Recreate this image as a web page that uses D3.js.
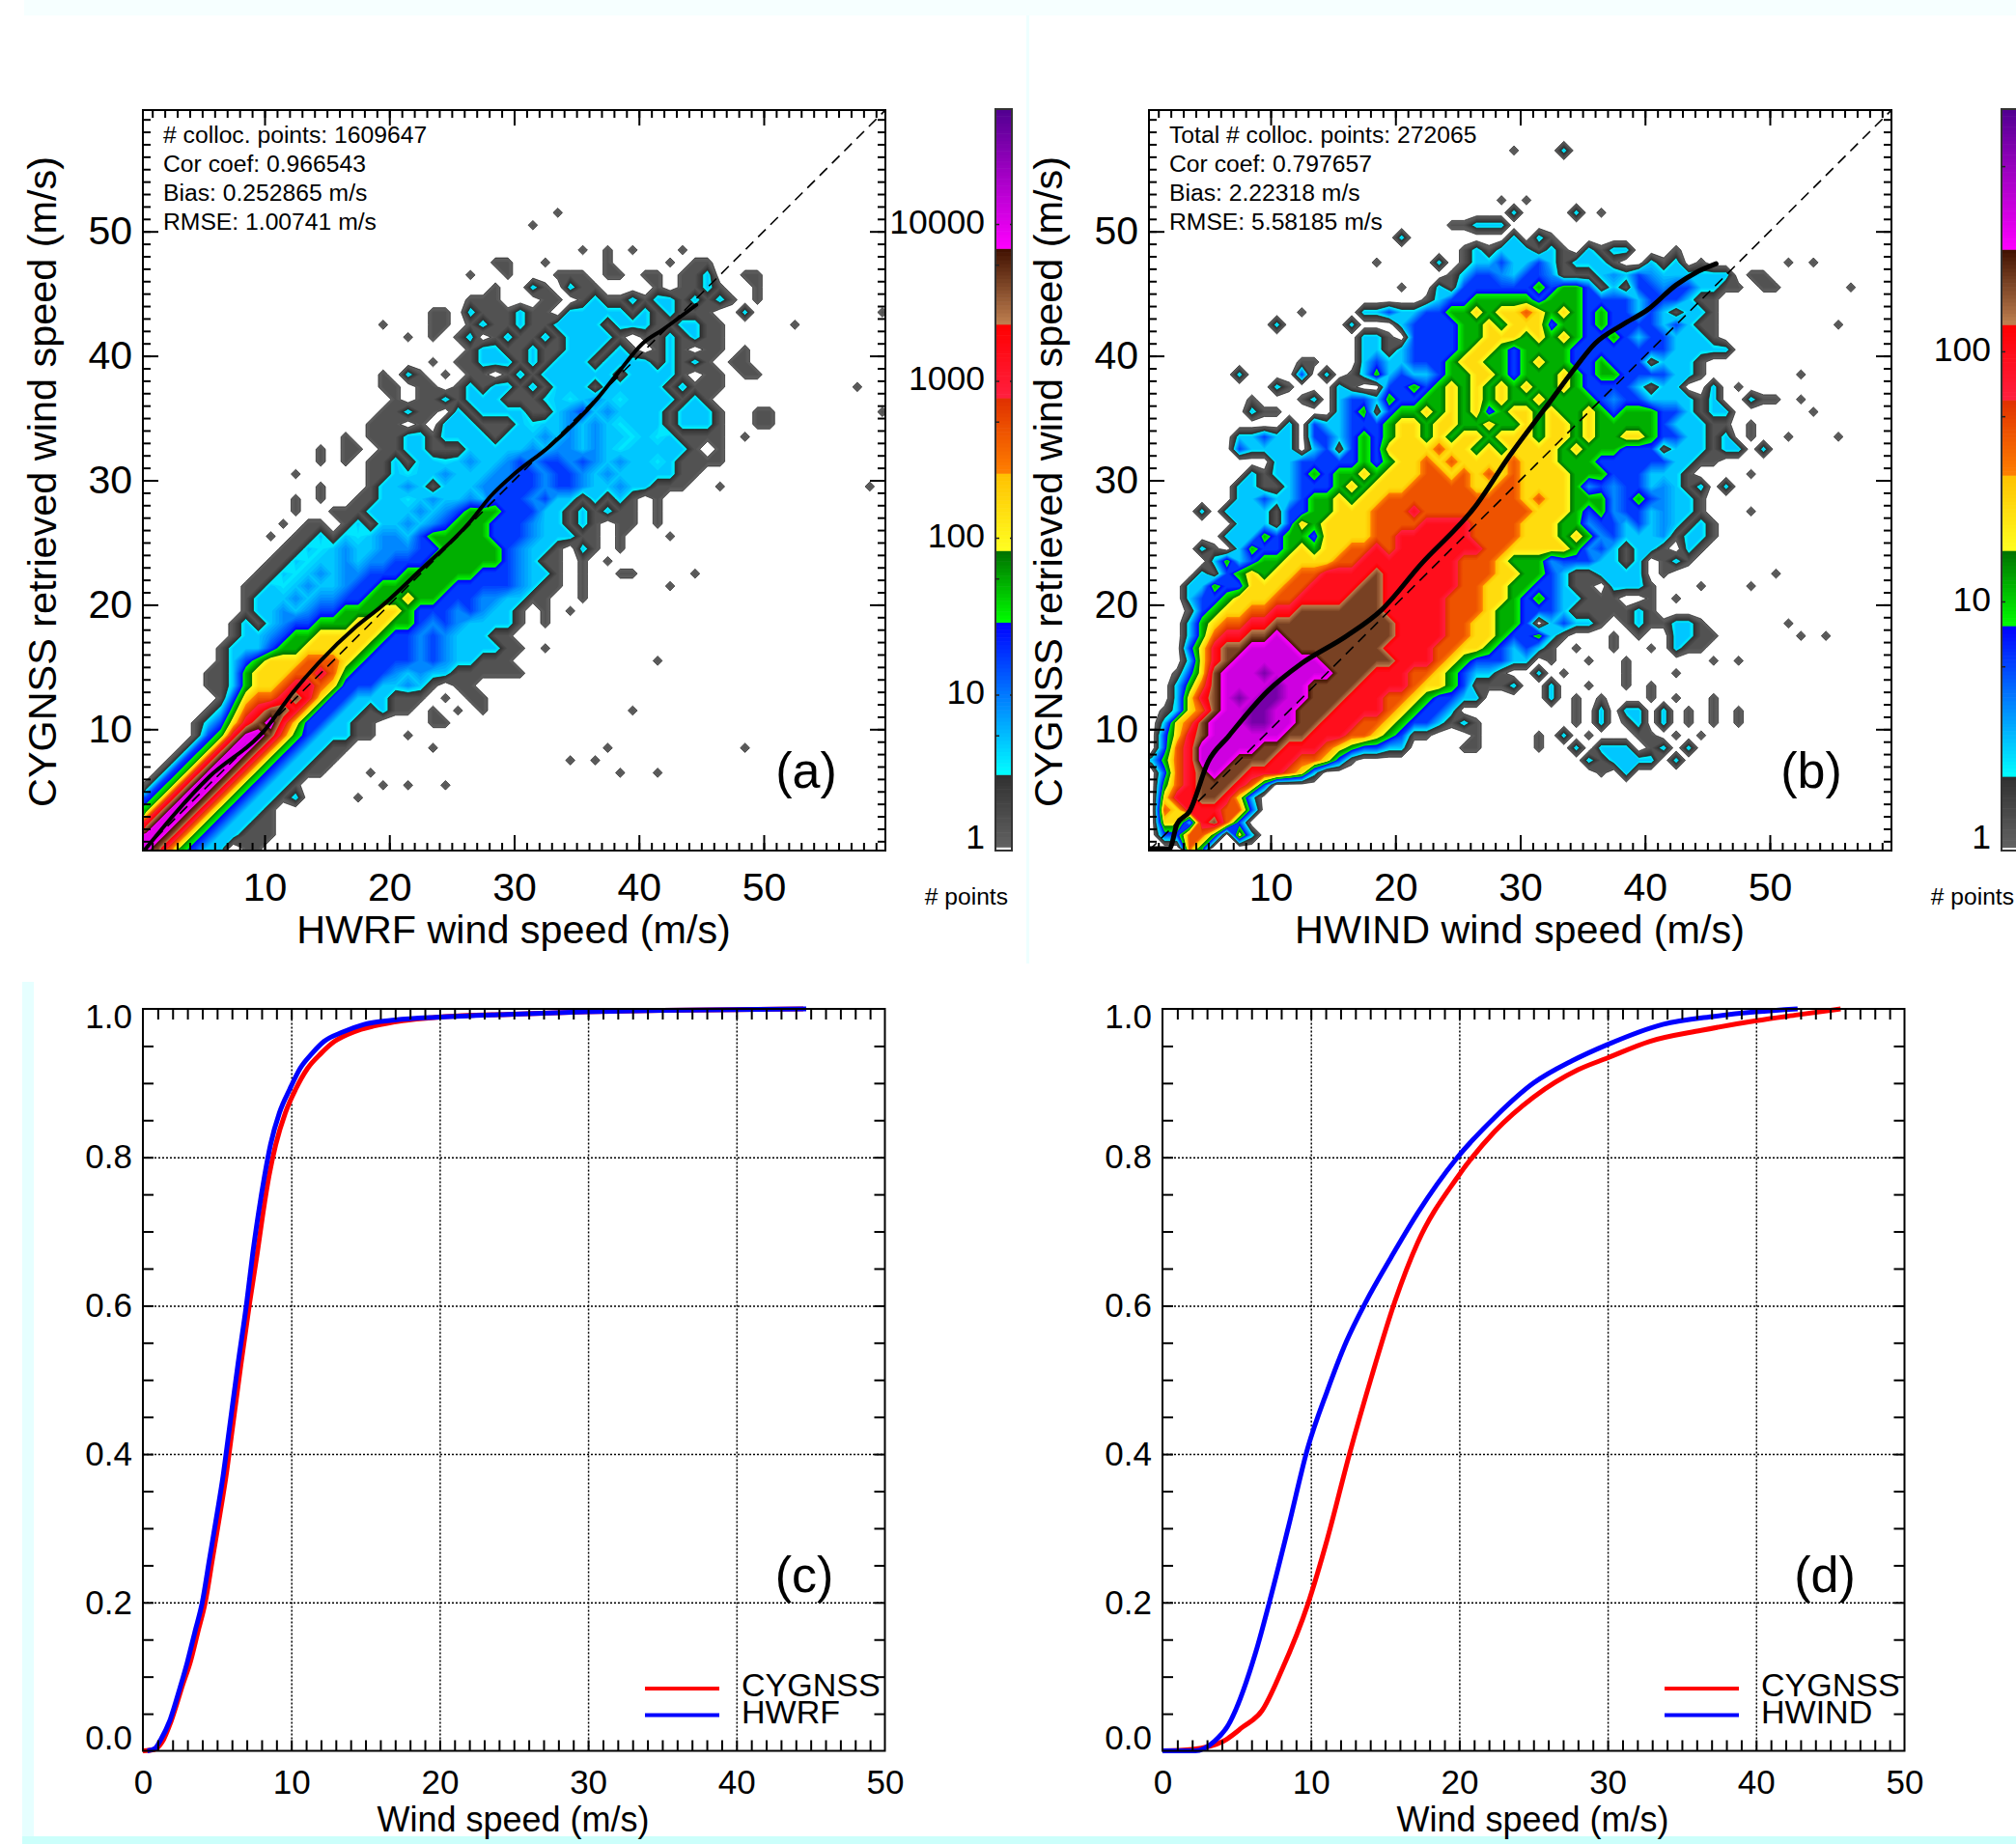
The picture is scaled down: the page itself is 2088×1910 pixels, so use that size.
<!DOCTYPE html>
<html>
<head>
<meta charset="utf-8">
<script src="https://cdnjs.cloudflare.com/ajax/libs/d3/7.8.5/d3.min.js"></script>
<style>
  html, body { margin: 0; padding: 0; background: #fff; overflow: hidden; }
  text { font-family: "Liberation Sans", Arial, sans-serif; fill: #000; }
</style>
</head>
<body>
<svg id="fig" width="2088" height="1910"></svg>
<script>
// density grids: one char per 1 m/s cell, rows from y=59 down to y=0, groups of 10 columns
// . empty, 1 grey, c-2-b-3 cyan to blue, 4 green, 5 yellow, 6 orange, 7 red, 8 brown, m-9-a magenta to purple
const densityA = [
  "", "", "", "", "", "", "", "",
  ".......... .......... .......... ...1",
  ".......... .......... .......... .1",
  "",
  ".......... .......... .......... .....1.1.1 ...1",
  ".......... .......... ........11 ..1....1.. ..1.11",
  ".......... .......... ......1..1 ...111.11. 11.112..11",
  ".......... .......... ........1. .21.211... .1.1121..1",
  ".......... .......... ......111. ..11.12112 12212121.1",
  ".......... .......... ...11.2111 211.222221 212111..2. .........1",
  ".......... .........1 ...11.1211 2112222122 2112211... ..1",
  ".......... .......... .1.1.12.12 112122221. 1121211",
  ".......... .......... ......1221 1211222121 .121.11.1.",
  ".......... .......... ...1.11222 1212221222 212121.11.",
  ".......... .........1 .21.1.11.1 2122222212 2221.11.11",
  ".......... .........1 1.11.12122 1212221222 2212111... .......1",
  ".......... .......... 1.11212221 11c2c2b2c2 222121",
  ".......... .........1 1211.21222 2112b32b22 2212221..1 1........1",
  ".......... ........11 1.1.222111 2c22b2b2c2 2212221..1 1",
  ".......... ......1.11 1221222212 22b2b2b22c 2c21111.1.",
  ".......... ....1.11.1 1221112222 2b2bb2b2c2 22221.1...",
  ".......... ....1.1.11 2122c2b22b 3b33b3b2b2 2c21111...",
  ".......... ..1.....11 2c22b222bb 33b33b2b22 22211.....",
  ".......... ....1...12 2b21222bb3 33b33b22b2 2111..1... ........1",
  ".......... ..1.1..112 2c2b22b233 3b32212121 .1",
  ".......... ..1..11122 22b2b34443 3322121211 .1",
  ".......... .1.11.1212 2b2b344433 3b22121.11 .1",
  ".......... 1.11212c2b b234444433 3b22211.1. ..1",
  ".......... .112c2b22b bb33444443 b221.21.1.",
  ".......... 112c22b2bb 3334444443 b211.1.1..",
  ".........1 12c2b2bb33 3444444333 b221.1..11 ....1",
  "........11 2c2b22b334 4444433333 b211.1.... ..1",
  "........12 22b2bb3344 4544333bb2 211..1",
  "........12 2b2b334445 54333b3b22 1.1.1",
  ".......121 2b33444555 443b3b2222 1.1",
  ".......122 b344555554 33b3b22211",
  "......1222 3445555543 33b3b22221 1.1",
  "......1234 5556665433 33b3b22111 .......... .1",
  ".....11245 5566764333 b2b2211111 1",
  ".....11245 5677653332 2b21.11...",
  "......1356 6787533222 111.1.11..",
  ".....12467 8875332212 11.1.1.1.. .........1",
  "....123578 975332211. ...11",
  "....1347m9 864322211. .1",
  "...1347m98 6432211... ...1...... .......1.. ........1",
  "..1347m986 432211.... .......... ....1.1",
  ".1347m9864 32211...1. .......... ........1. .1",
  "1347m98643 221......1 .1..1",
  "347m986432 212....1",
  "47m9864322 1",
  "7m98643221 1",
  "m986432211 1",
  "9864322.11"
];

const densityB = [
  "", "", "",
  ".......... .......... .........1 ...2",
  "", "", "",
  ".......... .......... ........1. 1",
  ".......... .......... .........2 ....2.1",
  ".......... .......... ....11222.",
  ".......... .......... 2........2 .21",
  ".......... .......... .....12122 2121.2122. ..1",
  ".......... ........1. ...2.12232 23212221.. 212.1..... .1.1",
  ".......... .......... ....1233b2 33b1112b23 b222222.11",
  ".......... .......... 1..2133333 3434431213 3b332211.1 1.....1",
  ".......... .......... ..12334444 4344433332 333211",
  ".......... ..1....223 2233445455 6545434332 321221",
  ".......... 2.....2... 2333344545 5534434333 323211.... .....1",
  ".......... .......221 .333344555 4545433432 332221",
  ".......... .......221 2333345543 4444333333 3322222",
  ".......... ..11...232 2333455443 4544334333 12221",
  ".......2.. ..3.2.1242 3223445543 4445434433 33221..... ..1",
  ".......... 21...21..3 3434545454 5445433332 122..2.1",
  "........1. ..12.23324 3344545454 4544443b33 222212..21 1.1",
  "........21 1....23413 4454545345 5454454344 4332122... ...1",
  ".......... .2.3223334 5545544544 5455454444 4322211.1.",
  ".......223 22.3323434 5545455455 5455454455 4332212.1. .1...1",
  ".......322 22.2313435 5556554545 5554544433 31222122.2",
  ".......... 2233333434 5565655556 5554443333 332211",
  "........21 2234344545 5566565656 5555444333 2221....1.",
  ".......221 1233345455 5666665566 55554b3b33 2b212.2",
  ".......223 2234454556 6666666666 5655444b34 3b221",
  "....2.2222 1334455566 6766666666 6555434b33 2b221...1.",
  ".......222 1354555566 6677776666 55544b3323 2b2121",
  "......2224 3443555566 7777776666 555454b322 2b1221",
  "....21.243 3454556676 7777777665 55554b3212 21.21",
  ".....24234 4555566777 7777766654 44b3332212 .121",
  "....213454 5566777787 7777766655 4432112222 .1........ 1",
  "...2243355 5667777887 7777766554 433211.222 1...1...1.",
  "...2334555 6677778887 7777666554 34322111.. 1.1",
  "...1345566 7788888887 7777666544 3332111112 1",
  "...2456677 8888888888 7777665544 3.23221.12 11221..... .1",
  "...2467788 9888888888 7777665543 3421...1.1 ..2211.... ..1.1",
  "...3578899 9988888887 7776655432 321.1..1.. 1.211",
  "...2578999 9999888888 7776543332 2.1..1..1. .....1.1",
  "..1358999a 9999988877 766543221. .2.1....1. ..1",
  "..24689999 a998888777 7655431112 ..2..1..1. 1",
  "..25789a9a a998887776 6543322... ..2.1.1... 1.1..1",
  ".1256899aa 9988877776 54332..... ....1.2.22 .2.1.1.1",
  ".2568999aa 9988777665 4332121... ....1.2.12 .2.1.1.1",
  ".357899999 9887776654 311...1... .1.2.1...1 1.1.1",
  ".367999998 8777654332 2....11... .1..2.222. 12.2",
  "2467999888 7766531... .......... .....21222 2.2",
  ".367898877 7652...... .......... ......1.2",
  ".467888763",
  ".57788752",
  ".65777663",
  ".5527863",
  ".33664.52",
  "...64"
];

// black mean lines (wind speed, retrieved)
const meanA = [[0.4,0.3],[2.8,3.2],[5.6,6.2],[9.9,9.8],[12.3,13],[14.3,15.3],[17.4,18.3],[19.4,19.9],[22.5,22.8],[26.5,26.7],[28.1,28.7],[30,30.5],[32.8,32.7],[36.7,36.6],[38.3,38.6],[40.3,41],[41.9,42.1],[44.6,44.1]];
const meanB = [[0.3,0.4],[1.9,0.4],[2.5,2.4],[3.5,3.4],[5,7.4],[6.6,9.4],[9.8,13.1],[12.5,15.3],[16.1,17.5],[18.9,19.6],[22,23.2],[26.4,27.9],[29.1,31.9],[32.3,36.2],[34.3,38.9],[36,41],[38.2,42.5],[40.2,43.7],[42.5,45.7],[44.1,46.7],[45.7,47.4]];

// cumulative curves
const cdfCygnssC = [[0,0],[0.8,.002],[1.3,.012],[1.9,.04],[2.7,.09],[3.2,.12],[3.7,.16],[4.2,.2],[4.7,.26],[5.2,.32],[5.6,.37],[6,.43],[6.6,.52],[7.2,.605],[7.7,.67],[8.1,.726],[8.5,.775],[8.95,.817],[9.6,.86],[10.3,.892],[11.1,.92],[12,.94],[12.9,.956],[14.2,.969],[15.6,.977],[17.5,.984],[20,.989],[25,.993],[29.8,.996],[35,.998],[44.5,1]];
const cdfHwrfC = [[0.3,0],[0.8,.003],[1.2,.015],[1.8,.04],[2.5,.085],[3,.12],[3.5,.16],[4,.2],[4.5,.26],[5,.32],[5.4,.37],[5.8,.43],[6.4,.52],[7,.605],[7.4,.67],[7.8,.726],[8.2,.775],[8.6,.817],[9.2,.86],[9.9,.892],[10.6,.92],[11.4,.94],[12.2,.956],[13.5,.969],[14.9,.979],[17,.985],[20,.989],[25,.993],[29.8,.996],[35,.998],[44.7,1]];
const cdfCygnssD = [[0,0],[2,.002],[4.1,.013],[5.4,.032],[6.7,.054],[8,.107],[9.8,.198],[11.1,.285],[12.6,.4],[14.1,.505],[15.65,.605],[17.2,.685],[19.8,.771],[22.4,.835],[25,.881],[28,.918],[30,.934],[32.8,.956],[36.3,.971],[40,.984],[42.8,.992],[45.7,1]];
const cdfHwindD = [[0,0],[2.2,0],[3.5,.013],[4.35,.032],[6.3,.134],[7.2,.2],[8.5,.303],[9.8,.409],[11.1,.485],[12.4,.552],[13.7,.605],[15.4,.665],[17.2,.725],[19.8,.798],[22.4,.854],[25,.9],[27.6,.93],[30,.952],[33.7,.979],[37.2,.99],[40,.996],[42.8,1]];

// colour bar, same level positions with different counts
const barLevels = [0.5, 1.5, 3.5, 4.5, 5.5, 6.5, 7.5, 8.5, 10.5];
const barCountsA = [1.07, 3.1, 29, 83, 258, 780, 2300, 7000, 54000];
const barCountsB = [1.04, 2, 8, 16, 32, 64, 128, 256, 930];
const barTicksA = [1, 10, 100, 1000, 10000];
const barTicksB = [1, 10, 100];
const barMinorA = [5.5, 55, 550, 5500];
const barMinorB = [5.5, 55, 550];

const statsA = ["# colloc. points: 1609647", "Cor coef: 0.966543", "Bias: 0.252865 m/s", "RMSE: 1.00741 m/s"];
const statsB = ["Total # colloc. points: 272065", "Cor coef: 0.797657", "Bias: 2.22318 m/s", "RMSE: 5.58185 m/s"];

const windTicks = [10, 20, 30, 40, 50];
const cdfXTicks = [0, 10, 20, 30, 40, 50];
const cdfYTicks = [0, 0.2, 0.4, 0.6, 0.8, 1];

const levelColor = d3.scaleLinear()
  .domain([0.5, 1.5, 1.5, 3.5, 3.5, 4.5, 4.5, 5.5, 5.5, 6.5, 6.5, 7.5, 7.5, 8.5, 8.5, 10.5])
  .range(["#626262", "#303030", "#00ffff", "#0000ff", "#00ff00", "#007000", "#ffff20", "#ffc000",
          "#ff8000", "#e03000", "#ff2040", "#ff0000", "#c08050", "#401000", "#ff00ff", "#500090"])
  .clamp(true);

const svg = d3.select("#fig");

// pale leftovers of the page background
const paleStrips = [
  [25, 0, 2063, 16, "#f6ffff"], [1063, 16, 3, 982, "#eeffff"],
  [23, 1017, 12, 893, "#e6ffff"], [23, 1902, 2065, 8, "#ccfffb"]
];
svg.selectAll("rect.pale").data(paleStrips).join("rect").attr("class", "pale")
  .attr("x", d => d[0]).attr("y", d => d[1]).attr("width", d => d[2]).attr("height", d => d[3])
  .attr("fill", d => d[4]);

const cellLevels = { ".": 0, "1": 0.8, "c": 1.7, "2": 1.95, "b": 2.4, "m": 8.75, "a": 10 };

function parseGrid(rows) {
  const values = [];
  rows.forEach(row => {
    const groups = row.split(" ");
    for (let g = 0; g < 6; g++) {
      const cells = (groups[g] || "").padEnd(10, ".").slice(0, 10);
      for (const c of cells) {
        values.push(c in cellLevels ? cellLevels[c] : +c);
      }
    }
  });
  return values;
}

function frameTicks(g, x, y, xMinor, yMinor, xMajor, yMajor, minorLen, majorLen, w, h, left, top) {
  const sides = [
    [d3.axisBottom(x), xMinor, xMajor, top + h, true],
    [d3.axisTop(x), xMinor, xMajor, top, true],
    [d3.axisLeft(y), yMinor, yMajor, left, false],
    [d3.axisRight(y), yMinor, yMajor, left + w, false]
  ];
  sides.forEach(s => {
    const t = s[4] ? "translate(0," + s[3] + ")" : "translate(" + s[3] + ",0)";
    [[s[1], minorLen], [s[2], majorLen]].forEach(p => {
      g.append("g").attr("transform", t)
        .call(s[0].tickValues(p[0]).tickSize(-p[1]).tickFormat(""))
        .call(a => a.select(".domain").remove())
        .call(a => a.selectAll("line").attr("stroke", "#000").attr("stroke-width", 2));
    });
  });
}

function drawDensity(opt) {
  const left = opt.left, right = left + 769, top = 114, bottom = 881;
  const x = d3.scaleLinear().domain([0.25, 59.75]).range([left, right]);
  const y = d3.scaleLinear().domain([0.25, 59.75]).range([bottom, top]);
  const g = svg.append("g");

  const clipId = "clip" + opt.tag.replace(/\W/g, "");
  g.append("clipPath").attr("id", clipId).append("rect")
    .attr("x", left).attr("y", top).attr("width", right - left).attr("height", bottom - top);

  const thresholds = d3.range(0.5, 10.5, 0.125);
  const contours = d3.contours().size([60, 60]).smooth(true).thresholds(thresholds)(parseGrid(opt.grid));
  const path = d3.geoPath(d3.geoTransform({
    point(px, py) { this.stream.point(x(px), y(60 - py)); }
  }));
  const plot = g.append("g").attr("clip-path", "url(#" + clipId + ")");
  plot.selectAll("path.band").data(contours).join("path").attr("class", "band")
    .attr("d", path)
    .attr("fill", d => levelColor(d.value + 0.0625));
  // thin dark outline round the two lowest classes
  plot.selectAll("path.edge").data(contours.filter(d => d.value === 0.5 || d.value === 1.5)).join("path")
    .attr("class", "edge").attr("d", path).attr("fill", "none")
    .attr("stroke", "#222").attr("stroke-width", 0.7);

  plot.append("line").attr("x1", x(0.25)).attr("y1", y(0.25)).attr("x2", x(59.75)).attr("y2", y(59.75))
    .attr("stroke", "#000").attr("stroke-width", 1.6).attr("stroke-dasharray", "11,7");
  const line = d3.line().x(d => x(d[0])).y(d => y(d[1])).curve(d3.curveMonotoneX);
  plot.append("path").datum(opt.mean).attr("d", line).attr("fill", "none")
    .attr("stroke", "#000").attr("stroke-width", opt.meanWidth).attr("stroke-linecap", "round");

  g.append("rect").attr("x", left).attr("y", top).attr("width", right - left).attr("height", bottom - top)
    .attr("fill", "none").attr("stroke", "#000").attr("stroke-width", 2);
  frameTicks(g, x, y, d3.range(1, 60), d3.range(1, 60), d3.range(10, 60, 10), d3.range(10, 60, 10),
    8, 16, right - left, bottom - top, left, top);

  const xAxis = g.append("g").attr("transform", "translate(0," + bottom + ")")
    .call(d3.axisBottom(x).tickValues(windTicks).tickSize(0).tickPadding(23));
  const yAxis = g.append("g").attr("transform", "translate(" + left + ",0)")
    .call(d3.axisLeft(y).tickValues(windTicks).tickSize(0).tickPadding(11));
  [xAxis, yAxis].forEach(a => {
    a.select(".domain").remove();
    a.selectAll("text").attr("font-size", 41).attr("fill", "#000")
      .style("font-family", '"Liberation Sans", Arial, sans-serif');
  });

  g.append("text").attr("x", left + 384).attr("y", 977).attr("text-anchor", "middle")
    .attr("font-size", 41.3).text(opt.xLabel);
  g.append("text").attr("transform", "translate(" + (left - 90) + ",499) rotate(-90)")
    .attr("text-anchor", "middle").attr("font-size", 41.4).text("CYGNSS retrieved wind speed (m/s)");

  g.selectAll("text.stat").data(opt.stats).join("text").attr("class", "stat")
    .attr("x", left + 21).attr("y", (d, i) => 147.5 + i * 30)
    .attr("font-size", 24.7).text(d => d);
  g.append("text").attr("x", left + opt.tagX).attr("y", 816).attr("text-anchor", "middle")
    .attr("font-size", 52).text(opt.tag);

  // colour bar
  const barX = left + 883, barW = 17;
  const barY = d3.scaleLog().domain([1, opt.barCounts[8]]).range([882, 113]);
  const levelToLog = d3.scaleLinear().domain(barLevels).range(opt.barCounts.map(c => Math.log10(c)));
  const steps = d3.range(0.5, 10.5, 0.05);
  g.selectAll("rect.bar").data(steps).join("rect").attr("class", "bar")
    .attr("x", barX).attr("width", barW)
    .attr("y", d => barY(Math.pow(10, levelToLog(d + 0.05))))
    .attr("height", d => barY(Math.pow(10, levelToLog(d))) - barY(Math.pow(10, levelToLog(d + 0.05))) + 0.6)
    .attr("fill", d => levelColor(d + 0.025));
  g.append("rect").attr("x", barX).attr("y", 113).attr("width", barW).attr("height", 768)
    .attr("fill", "none").attr("stroke", "#333").attr("stroke-width", 2);
  [[d3.axisLeft(barY), barX, opt.barTicks.slice(1).concat(opt.barMinor), -4],
   [d3.axisRight(barY), barX + barW, opt.barTicks.slice(1), -2]].forEach(s => {
    g.append("g").attr("transform", "translate(" + s[1] + ",0)")
      .call(s[0].tickValues(s[2]).tickSize(s[3]).tickFormat(""))
      .call(a => a.select(".domain").remove())
      .call(a => a.selectAll("line").attr("stroke", "#222").attr("stroke-width", 1.5));
  });
  const barAxis = g.append("g").attr("transform", "translate(" + barX + ",0)")
    .call(d3.axisLeft(barY).tickValues(opt.barTicks).tickFormat(d3.format("d")).tickSize(0).tickPadding(11));
  barAxis.select(".domain").remove();
  barAxis.selectAll("text").attr("font-size", 35.5).attr("fill", "#000")
    .style("font-family", '"Liberation Sans", Arial, sans-serif')
    .attr("dy", d => d === 1 ? "-0.1em" : "0.26em");
  g.append("text").attr("x", barX + 13).attr("y", 937).attr("text-anchor", "end")
    .attr("font-size", 24.6).text("# points");
}

function drawCdf(opt) {
  const left = opt.left, right = left + 768.5, top = 1045, bottom = 1813.5;
  const x = d3.scaleLinear().domain([0, 50]).range([left, right]);
  const y = d3.scaleLinear().domain([0, 1]).range([bottom, top]);
  const g = svg.append("g");

  const gridX = g.append("g").attr("transform", "translate(0," + bottom + ")")
    .call(d3.axisBottom(x).tickValues(cdfXTicks.slice(1, 5)).tickSize(-(bottom - top)).tickFormat(""));
  const gridY = g.append("g").attr("transform", "translate(" + left + ",0)")
    .call(d3.axisLeft(y).tickValues(cdfYTicks.slice(1, 5)).tickSize(-(right - left)).tickFormat(""));
  [gridX, gridY].forEach(a => {
    a.select(".domain").remove();
    a.selectAll("line").attr("stroke", "#000").attr("stroke-width", 1.5).attr("stroke-dasharray", "2,2");
  });

  const line = d3.line().x(d => x(d[0])).y(d => y(d[1])).curve(d3.curveMonotoneX);
  opt.curves.forEach(c => {
    g.append("path").datum(c.data).attr("d", line).attr("fill", "none")
      .attr("stroke", c.color).attr("stroke-width", 5);
  });

  g.append("rect").attr("x", left).attr("y", top).attr("width", right - left).attr("height", bottom - top)
    .attr("fill", "none").attr("stroke", "#000").attr("stroke-width", 2);
  frameTicks(g, x, y, d3.range(1, 50), d3.range(0.05, 1, 0.05), [], [],
    11, 0, right - left, bottom - top, left, top);

  const xAxis = g.append("g").attr("transform", "translate(0," + bottom + ")")
    .call(d3.axisBottom(x).tickValues(cdfXTicks).tickSize(0).tickPadding(20));
  const yAxis = g.append("g").attr("transform", "translate(" + left + ",0)")
    .call(d3.axisLeft(y).tickValues(cdfYTicks).tickFormat(d3.format(".1f")).tickSize(0).tickPadding(11));
  [xAxis, yAxis].forEach(a => {
    a.select(".domain").remove();
    a.selectAll("text").attr("font-size", 35).attr("fill", "#000")
      .style("font-family", '"Liberation Sans", Arial, sans-serif');
  });
  yAxis.selectAll("text").attr("dy", d => d === 1 ? "0.55em" : d === 0 ? "-0.05em" : "0.32em");

  g.append("text").attr("x", left + 383.5).attr("y", 1897).attr("text-anchor", "middle")
    .attr("font-size", 36).text("Wind speed (m/s)");
  g.append("text").attr("x", left + opt.tagX).attr("y", 1649).attr("text-anchor", "middle")
    .attr("font-size", 52).text(opt.tag);

  opt.curves.forEach((c, i) => {
    g.append("line").attr("x1", left + opt.legendX).attr("x2", left + opt.legendX + 77)
      .attr("y1", 1749 + i * 27.5).attr("y2", 1749 + i * 27.5)
      .attr("stroke", c.color).attr("stroke-width", 4);
    g.append("text").attr("x", left + opt.legendX + 100).attr("y", 1757 + i * 27.5)
      .attr("font-size", 34).text(c.name);
  });
}

drawDensity({ tag: "(a)", left: 148, grid: densityA, mean: meanA, meanWidth: 4, stats: statsA, tagX: 687,
  xLabel: "HWRF wind speed (m/s)", barCounts: barCountsA, barTicks: barTicksA, barMinor: barMinorA });
drawDensity({ tag: "(b)", left: 1190, grid: densityB, mean: meanB, meanWidth: 5, stats: statsB, tagX: 686,
  xLabel: "HWIND wind speed (m/s)", barCounts: barCountsB, barTicks: barTicksB, barMinor: barMinorB });

drawCdf({ tag: "(c)", left: 148, tagX: 685, legendX: 520, curves: [
  { name: "CYGNSS", color: "#ff0000", data: cdfCygnssC },
  { name: "HWRF", color: "#0000ff", data: cdfHwrfC }
] });
drawCdf({ tag: "(d)", left: 1204, tagX: 686, legendX: 520, curves: [
  { name: "CYGNSS", color: "#ff0000", data: cdfCygnssD },
  { name: "HWIND", color: "#0000ff", data: cdfHwindD }
] });
</script>
</body>
</html>
